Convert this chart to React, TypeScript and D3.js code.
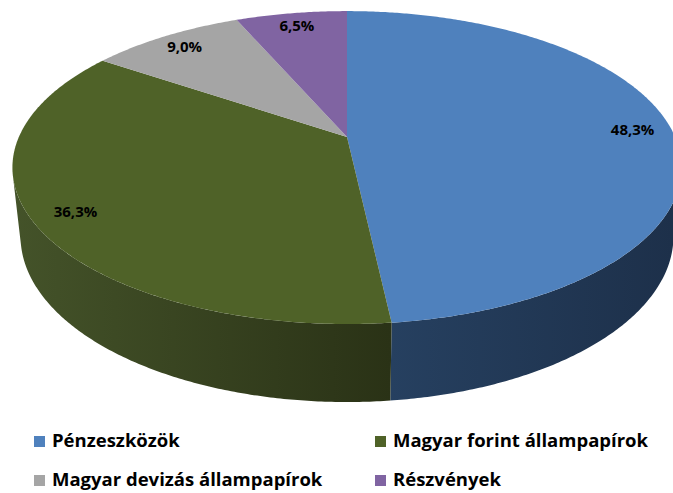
import React from "react"
import * as d3 from "d3"

const categories = ["Pénzeszközök", "Magyar forint állampapírok", "Magyar devizás állampapírok", "Részvények"]
const values = [48.3, 36.3, 9.0, 6.5]
const topColors = ["#4F81BD", "#4F6228", "#A5A5A5", "#8064A2"]
const sideColors = [
  ["#264060", "#1D304A"],
  ["#45542A", "#2A3216"],
  ["#7A7A7A", "#6A6A6A"],
  ["#5E4A78", "#4F3E65"],
]

const W = 673
const H = 493

// camera for the 3D look
const cx = 347
const cy = 137
const focal = 1493
const dist = 4.55
const tilt = (27.3 * Math.PI) / 180
const thick = 0.237
const labelR = 0.88

const fmt = (v: number) => d3.format(".1f")(v).replace(".", ",") + "%"

function project(r: number, theta: number, y: number): [number, number] {
  const X = r * Math.sin(theta)
  const Z = -r * Math.cos(theta)
  const ca = Math.cos(tilt)
  const sa = Math.sin(tilt)
  const d = dist - (Z * ca + y * sa)
  return [cx + (focal * X) / d, cy - (focal * (y * ca - Z * sa)) / d]
}

function arcPoints(a0: number, a1: number, y: number) {
  const n = Math.max(2, Math.ceil((a1 - a0) / (Math.PI / 360)))
  return d3.range(n + 1).map((i) => project(1, a0 + ((a1 - a0) * i) / n, y))
}

export default function App() {
  const arcs = d3.pie<number>().sort(null).value((d) => d)(values)
  const line = d3.line()

  // side wall is visible where it faces the camera
  const k = 1 / (dist * Math.cos(tilt))
  const visLo = Math.acos(-k)
  const visHi = 2 * Math.PI - visLo

  return (
    <svg width={W} height={H} style={{ position: "absolute", left: 0, top: 0, background: "#fff" }}>
      <defs>
        {sideColors.map((c, i) => (
          <linearGradient key={i} id={`side-${i}`} gradientUnits="userSpaceOnUse" x1={0} y1={0} x2={W} y2={0}>
            <stop offset="0%" stopColor={c[0]} />
            <stop offset="58%" stopColor={i === 0 ? c[0] : c[1]} />
            <stop offset="100%" stopColor={c[1]} />
          </linearGradient>
        ))}
      </defs>

      {/* side walls */}
      {arcs.map((a, i) => {
        const s = Math.max(a.startAngle, visLo)
        const e = Math.min(a.endAngle, visHi)
        if (e <= s) return null
        const pts = [...arcPoints(s, e, 0), ...arcPoints(s, e, -thick).reverse()]
        return <path key={i} d={line(pts) + "Z"} fill={`url(#side-${i})`} />
      })}

      {/* top faces */}
      {arcs.map((a, i) => {
        const pts = [project(0, 0, 0), ...arcPoints(a.startAngle, a.endAngle, 0)]
        return <path key={i} d={line(pts) + "Z"} fill={topColors[i]} />
      })}

      {/* value labels */}
      {arcs.map((a, i) => {
        const [x, y] = project(labelR, (a.startAngle + a.endAngle) / 2, 0)
        return (
          <text
            key={i}
            x={x}
            y={y + 5}
            textAnchor="middle"
            fontFamily="'Open Sans', sans-serif"
            fontWeight="bold"
            fontSize={15}
            fill="#000"
          >
            {fmt(values[i])}
          </text>
        )
      })}

      {/* legend */}
      {categories.map((c, i) => {
        const colX = [34, 375][i % 2]
        const rowY = [447, 486][Math.floor(i / 2)]
        return (
          <g key={c} transform={`translate(${colX},${rowY})`}>
            <rect x={0} y={-11} width={11} height={11} fill={topColors[i]} />
            <text x={18} y={0} fontFamily="'Open Sans', sans-serif" fontWeight="bold" fontSize={18.5} fill="#000">
              {c}
            </text>
          </g>
        )
      })}
    </svg>
  )
}
